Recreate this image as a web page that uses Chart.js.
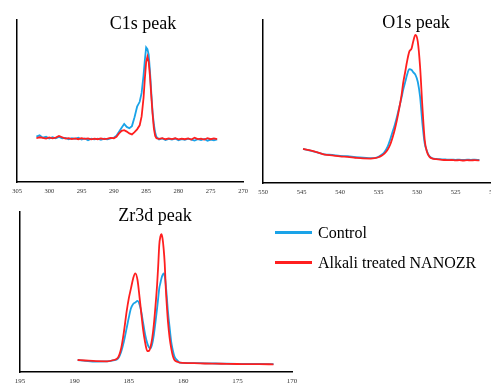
<!DOCTYPE html>
<html>
<head>
<meta charset="utf-8">
<script src="https://cdn.jsdelivr.net/npm/chart.js@4.4.0/dist/chart.umd.min.js"></script>
<style>
  html, body { margin: 0; padding: 0; background: #fff; overflow: hidden; }
  body { position: relative; width: 491px; height: 384px; }
  .panel { position: absolute; }
  .title, .leg { position: absolute; font-family: 'Liberation Serif', 'Times New Roman', serif; color: #000; white-space: nowrap; }
  .title { font-size: 18px; transform: translate(-50%, -50%); }
  .leg { font-size: 16px; transform: translateY(-50%); }
  .swatch { position: absolute; width: 37px; height: 3px; }
</style>
</head>
<body>
<div class="panel" style="left:0;top:0"><canvas id="c1s" width="255" height="200"></canvas></div>
<div class="panel" style="left:250px;top:0"><canvas id="o1s" width="260" height="200"></canvas></div>
<div class="panel" style="left:0;top:195px"><canvas id="zr3d" width="310" height="192"></canvas></div>

<div class="title" style="left:143px;top:23px">C1s peak</div>
<div class="title" style="left:416px;top:22px">O1s peak</div>
<div class="title" style="left:155px;top:215px">Zr3d peak</div>

<div class="swatch" style="left:275px;top:231px;background:#1AA3E8"></div>
<div class="leg" style="left:318px;top:233px">Control</div>
<div class="swatch" style="left:275px;top:261px;background:#FF1F1F"></div>
<div class="leg" style="left:318px;top:263px">Alkali treated NANOZR</div>

<script>
// ---- data (binding energy in eV, intensity in arbitrary units 0-100) ----
const seriesNames = ['Control', 'Alkali treated NANOZR'];

const c1sTicks = [305, 300, 295, 290, 285, 280, 275, 270];
const c1sEnergy = [302.0, 301.5, 301.0, 300.5, 300.0, 299.5, 299.0, 298.5, 298.0, 297.5, 297.0, 296.5, 296.0, 295.5, 295.0,
  294.5, 294.0, 293.5, 293.0, 292.5, 292.0, 291.5, 291.0, 290.5, 290.0, 289.6, 289.2, 288.8, 288.4, 288.0, 287.6, 287.2,
  286.8, 286.4, 286.0, 285.7, 285.4, 285.2, 285.0, 284.8, 284.6, 284.4, 284.2, 284.0, 283.8, 283.6, 283.4, 283.0, 282.5,
  282.0, 281.5, 281.0, 280.5, 280.0, 279.5, 279.0, 278.5, 278.0, 277.5, 277.0, 276.5, 276.0, 275.5, 275.0, 274.5, 274.0];
const c1sControl = [28.0, 28.8, 27.4, 27.9, 26.8, 27.6, 27.0, 27.8, 26.9, 27.2, 26.4, 27.1, 26.6, 27.3, 26.2,
  26.9, 25.8, 26.7, 26.3, 26.8, 26.1, 26.7, 26.4, 26.9, 27.3, 28.6, 31.0, 33.5, 35.8, 34.0, 33.2, 34.5,
  40.0, 46.5, 49.5, 55.0, 66.0, 75.3, 83.1, 82.0, 78.5, 68.0, 55.0, 43.0, 35.5, 30.5, 27.8, 26.3, 26.9,
  25.9, 26.6, 26.2, 26.8, 25.7, 26.5, 26.0, 26.7, 26.1, 25.6, 26.4, 25.9, 26.6, 25.5, 26.2, 25.8, 26.3];
const c1sTreated = [27.0, 27.6, 27.2, 26.8, 27.5, 27.0, 27.4, 28.4, 27.6, 26.8, 27.1, 26.5, 26.9, 26.4, 27.0,
  26.6, 26.9, 26.3, 26.8, 26.4, 26.9, 26.5, 26.8, 27.2, 27.0, 27.9, 30.0, 31.6, 32.0, 31.1, 30.0, 29.4,
  30.8, 32.5, 35.0, 40.5, 52.0, 64.0, 74.0, 77.4, 74.0, 65.0, 53.0, 42.0, 33.0, 28.5, 27.0, 26.6, 27.1,
  26.4, 26.9, 26.5, 27.0, 26.3, 26.8, 26.4, 26.9, 26.2, 27.3, 26.5, 26.8, 26.2, 27.0, 26.4, 26.9, 26.5];

const o1sTicks = [550, 545, 540, 535, 530, 525, 520];
const o1sEnergy = [544.8, 544, 543, 542, 541, 540, 539, 538, 537, 536, 535.5, 535, 534.6, 534.2, 533.8, 533.5, 533.2,
  532.9, 532.6, 532.3, 532.0, 531.8, 531.5, 531.3, 531.0, 530.7, 530.5, 530.2, 529.9, 529.6, 529.3, 529.0, 528.7,
  528.4, 528.0, 527.5, 527, 526.5, 526, 525.5, 525, 524.5, 524, 523.5, 523, 522.5, 521.9];
const o1sControl = [20.9, 20.0, 18.8, 17.6, 17.2, 16.6, 16.4, 15.8, 15.6, 15.2, 15.3, 16.1, 17.3, 19.2, 22.5, 26.4, 31.0,
  35.5, 40.7, 46.5, 52.5, 57.1, 62.5, 66.3, 69.9, 69.3, 68.0, 66.3, 62.1, 52.9, 36.6, 24.4, 19.5,
  16.5, 15.2, 14.8, 14.6, 14.5, 14.3, 14.4, 14.2, 14.3, 14.1, 14.4, 14.2, 14.3, 14.1];
const o1sTreated = [20.9, 20.2, 18.9, 17.4, 16.9, 16.3, 16.0, 15.5, 15.1, 15.0, 15.2, 15.8, 16.8, 18.2, 20.6, 23.3, 27.5,
  32.5, 38.7, 46.0, 54.0, 61.2, 69.0, 74.4, 80.6, 82.6, 86.7, 90.8, 86.7, 71.3, 46.8, 26.4, 19.0,
  16.2, 15.0, 14.6, 14.3, 14.1, 14.0, 14.1, 13.9, 14.0, 13.8, 14.0, 13.9, 14.0, 13.9];

const zrTicks = [195, 190, 185, 180, 175, 170];
const zrEnergy = [189.7, 189, 188, 187, 186.4, 186.0, 185.7, 185.45, 185.2, 185.0, 184.8, 184.6, 184.4, 184.2, 184.0,
  183.85, 183.7, 183.5, 183.3, 183.15, 183.0, 182.85, 182.7, 182.55, 182.4, 182.3, 182.2, 182.1, 182.0, 181.9,
  181.8, 181.7, 181.6, 181.5, 181.4, 181.25, 181.1, 180.95, 180.8, 180.5, 180.3, 179, 178, 177, 176, 175, 174, 173, 171.7];
const zrControl = [7.5, 7.0, 6.5, 6.6, 7.3, 8.3, 12.7, 19.0, 27.3, 34.0, 39.8, 42.5, 43.5, 44.4, 41.9,
  37.5, 31.5, 23.5, 17.9, 15.5, 14.8, 17.5, 23.1, 31.0, 39.8, 46.0, 52.3, 55.5, 58.5, 60.5,
  61.7, 60.0, 54.4, 46.5, 37.7, 28.0, 18.9, 13.5, 9.6, 7.0, 5.8, 5.6, 5.4, 5.3, 5.2, 5.1, 5.0, 5.0, 4.9];
const zrTreated = [7.5, 7.2, 6.8, 6.7, 7.5, 8.9, 14.8, 25.0, 37.7, 46.0, 52.3, 58.5, 61.7, 57.5, 46.0,
  36.5, 27.3, 18.5, 13.1, 13.2, 15.8, 21.0, 29.4, 41.0, 54.4, 66.0, 79.4, 84.5, 86.1, 83.5,
  77.3, 68.0, 52.3, 41.0, 31.5, 21.5, 14.8, 10.0, 7.5, 6.3, 5.8, 5.5, 5.3, 5.2, 5.1, 5.0, 4.9, 4.9, 4.8];

// ---- styling ----
const BLUE = '#1AA3E8';
const RED = '#FF1F1F';
const SERIF = "'Liberation Serif', 'Times New Roman', serif";

function pts(xs, ys) {
  return xs.map((x, i) => ({ x: x, y: ys[i] }));
}

function makePanel(id, energy, control, treated, ticks, pad, tickFont, tickPad, smooth) {
  const line = smooth ? { cubicInterpolationMode: 'monotone' } : { tension: 0 };
  return new Chart(document.getElementById(id), {
    type: 'line',
    data: {
      datasets: [
        Object.assign({ label: seriesNames[0], data: pts(energy, control), borderColor: BLUE, borderWidth: 1.8, pointRadius: 0, order: 1 }, line),
        Object.assign({ label: seriesNames[1], data: pts(energy, treated), borderColor: RED, borderWidth: 1.8, pointRadius: 0, order: 0 }, line)
      ]
    },
    options: {
      responsive: false,
      animation: false,
      events: [],
      layout: { padding: pad },
      plugins: { legend: { display: false }, tooltip: { enabled: false } },
      scales: {
        x: {
          type: 'linear',
          reverse: true,
          min: Math.min(...ticks),
          max: Math.max(...ticks),
          afterBuildTicks: s => { s.ticks = ticks.map(v => ({ value: v })); },
          afterFit: s => { s.height = 14; },
          grid: { display: false, drawTicks: false },
          border: { display: true, color: '#000', width: 1.5 },
          ticks: { color: '#333', font: { family: SERIF, size: tickFont }, padding: tickPad, maxRotation: 0, autoSkip: false }
        },
        y: {
          min: 0,
          max: 100,
          afterFit: s => { s.width = 0; },
          grid: { display: false, drawTicks: false },
          border: { display: true, color: '#000', width: 1.5 },
          ticks: { display: false }
        }
      }
    }
  });
}

makePanel('c1s', c1sEnergy, c1sControl, c1sTreated, c1sTicks, { left: 17, top: 20, right: 12, bottom: 4 }, 6.5, 5, false);
makePanel('o1s', o1sEnergy, o1sControl, o1sTreated, o1sTicks, { left: 13, top: 20, right: 16, bottom: 3 }, 6.5, 5, true);
makePanel('zr3d', zrEnergy, zrControl, zrTreated, zrTicks, { left: 20, top: 17, right: 18, bottom: 1 }, 7, 5, true);
</script>
</body>
</html>
